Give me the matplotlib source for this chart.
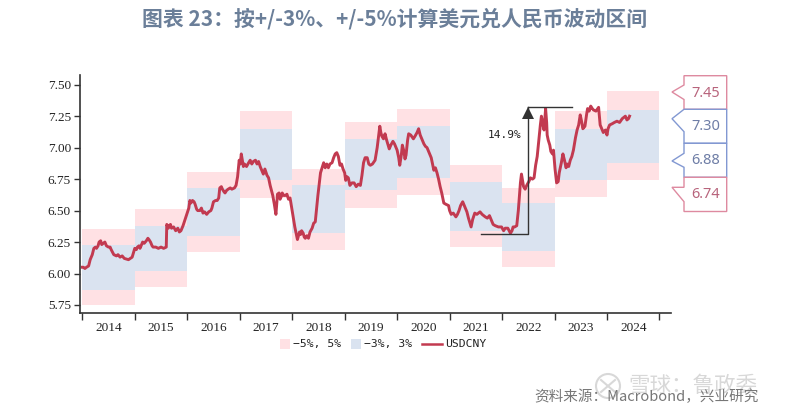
import matplotlib
matplotlib.use("Agg")
import matplotlib.pyplot as plt
from matplotlib.patches import Polygon, Rectangle, Circle
import numpy as np

plt.rcParams['font.family'] = ['Noto Sans CJK SC', 'DejaVu Sans']

# 数据
years = [2014, 2015, 2016, 2017, 2018, 2019, 2020, 2021, 2022, 2023, 2024]
low5 = [5.75, 5.89, 6.17, 6.60, 6.19, 6.52, 6.62, 6.21, 6.05, 6.61, 6.74]
low3 = [5.87, 6.02, 6.30, 6.74, 6.32, 6.66, 6.76, 6.34, 6.18, 6.74, 6.88]
high3 = [6.23, 6.38, 6.68, 7.15, 6.70, 7.07, 7.17, 6.73, 6.56, 7.15, 7.30]
high5 = [6.35, 6.51, 6.81, 7.29, 6.83, 7.20, 7.31, 6.86, 6.68, 7.29, 7.45]

usd_t = [2014.0, 2014.05, 2014.12, 2014.17, 2014.22, 2014.27, 2014.32, 2014.4, 2014.5, 2014.55,
         2014.65, 2014.72, 2014.8, 2014.88, 2014.95, 2015.0, 2015.05, 2015.1, 2015.15, 2015.22,
         2015.27, 2015.3, 2015.35, 2015.45, 2015.55, 2015.6, 2015.61, 2015.66, 2015.7, 2015.78,
         2015.85, 2015.92, 2016.0, 2016.05, 2016.1, 2016.15, 2016.2, 2016.27, 2016.3, 2016.37,
         2016.45, 2016.5, 2016.57, 2016.62, 2016.67, 2016.72, 2016.78, 2016.85, 2016.93, 2016.96,
         2016.99, 2017.03, 2017.07, 2017.17, 2017.26, 2017.36, 2017.42, 2017.52, 2017.58, 2017.63,
         2017.66, 2017.69, 2017.72, 2017.77, 2017.81, 2017.87, 2017.96, 2018.0, 2018.05, 2018.1,
         2018.14, 2018.21, 2018.25, 2018.31, 2018.38, 2018.44, 2018.49, 2018.54, 2018.6, 2018.63,
         2018.72, 2018.82, 2018.88, 2018.94, 2019.0, 2019.04, 2019.14, 2019.3, 2019.36, 2019.43,
         2019.49, 2019.58, 2019.67, 2019.71, 2019.77, 2019.85, 2019.92, 2020.0, 2020.05, 2020.1,
         2020.17, 2020.22, 2020.31, 2020.41, 2020.47, 2020.54, 2020.6, 2020.7, 2020.76, 2020.82,
         2020.89, 2020.98, 2021.03, 2021.12, 2021.18, 2021.25, 2021.33, 2021.41, 2021.48, 2021.58,
         2021.68, 2021.76, 2021.83, 2021.93, 2022.06, 2022.16, 2022.21, 2022.28, 2022.33, 2022.37,
         2022.41, 2022.47, 2022.54, 2022.61, 2022.67, 2022.75, 2022.8, 2022.83, 2022.88, 2022.93,
         2022.98, 2023.04, 2023.09, 2023.16, 2023.22, 2023.3, 2023.36, 2023.43, 2023.49, 2023.54,
         2023.63, 2023.69, 2023.74, 2023.84, 2023.9, 2024.0, 2024.05, 2024.19, 2024.29, 2024.35,
         2024.38, 2024.43]
usd_v = [6.05, 6.04, 6.06, 6.13, 6.20, 6.20, 6.25, 6.24, 6.21, 6.19,
         6.14, 6.13, 6.12, 6.11, 6.13, 6.20, 6.21, 6.20, 6.25, 6.26,
         6.27, 6.25, 6.21, 6.20, 6.20, 6.21, 6.39, 6.38, 6.36, 6.34,
         6.33, 6.38, 6.48, 6.58, 6.58, 6.55, 6.50, 6.52, 6.48, 6.47,
         6.50, 6.57, 6.58, 6.68, 6.67, 6.64, 6.67, 6.67, 6.70, 6.77,
         6.90, 6.95, 6.85, 6.88, 6.89, 6.89, 6.82, 6.78, 6.70, 6.62,
         6.55, 6.47, 6.63, 6.59, 6.64, 6.62, 6.60, 6.50, 6.37, 6.27,
         6.33, 6.32, 6.28, 6.28, 6.36, 6.41, 6.62, 6.80, 6.88, 6.84,
         6.87, 6.95, 6.93, 6.87, 6.80, 6.77, 6.72, 6.70, 6.88, 6.92,
         6.86, 6.90, 7.17, 7.09, 7.11, 6.99, 7.05, 6.98, 6.86, 7.02,
         6.94, 7.11, 7.07, 7.15, 7.07, 7.01, 6.97, 6.82, 6.80, 6.69,
         6.56, 6.54, 6.47, 6.45, 6.50, 6.57, 6.49, 6.37, 6.48, 6.49,
         6.45, 6.46, 6.39, 6.37, 6.36, 6.32, 6.37, 6.38, 6.61, 6.79,
         6.69, 6.70, 6.76, 6.76, 6.93, 7.25, 7.14, 7.31, 7.06, 6.97,
         6.98, 6.72, 6.80, 6.95, 6.84, 6.90, 6.98, 7.14, 7.26, 7.15,
         7.31, 7.33, 7.30, 7.32, 7.15, 7.10, 7.18, 7.21, 7.23, 7.25,
         7.22, 7.25]

# 细节点（折线上的小波动）
detail_t = [2014.02, 2014.08, 2014.15, 2014.19, 2014.25, 2014.30, 2014.35, 2014.37, 2014.43, 2014.46,
            2014.53, 2014.6, 2014.68, 2014.76, 2015.03, 2015.08, 2015.18, 2015.25, 2015.33, 2015.4,
            2015.5, 2015.64, 2015.68, 2015.74, 2015.82, 2015.88, 2015.96, 2016.03, 2016.07, 2016.13,
            2016.18, 2016.24, 2016.33, 2016.41, 2016.47, 2016.54, 2016.6, 2016.65, 2016.7, 2016.75,
            2016.82, 2016.9, 2017.01, 2017.09, 2017.13, 2017.2, 2017.23, 2017.3, 2017.33, 2017.39,
            2017.45, 2017.48, 2017.55, 2017.75, 2017.79, 2017.84, 2017.9, 2017.93, 2018.12, 2018.16,
            2018.18, 2018.23, 2018.28, 2018.34, 2018.41, 2018.57, 2018.66, 2018.69, 2018.76, 2018.79,
            2018.85, 2018.91, 2018.97, 2019.02, 2019.07, 2019.1, 2019.18, 2019.22, 2019.26, 2019.33,
            2019.39, 2019.46, 2019.53, 2019.62, 2019.69, 2019.74, 2019.8, 2019.88, 2019.95, 2020.03,
            2020.08, 2020.13, 2020.15, 2020.2, 2020.26, 2020.34, 2020.38, 2020.44, 2020.51, 2020.57,
            2020.65, 2020.73, 2020.79, 2020.85, 2020.93, 2021.0, 2021.07, 2021.15, 2021.21, 2021.29,
            2021.36, 2021.44, 2021.52, 2021.62, 2021.72, 2021.79, 2021.87, 2021.99, 2022.03, 2022.11,
            2022.19, 2022.24, 2022.31, 2022.35, 2022.39, 2022.44, 2022.51, 2022.58, 2022.64, 2022.71,
            2022.73, 2022.78, 2022.85, 2022.86, 2022.91, 2022.96, 2023.01, 2023.07, 2023.13, 2023.19,
            2023.24, 2023.27, 2023.33, 2023.4, 2023.46, 2023.52, 2023.58, 2023.61, 2023.66, 2023.72,
            2023.79, 2023.87, 2023.93, 2023.97, 2024.02, 2024.1, 2024.14, 2024.24, 2024.32, 2024.41]
detail_v = [6.05, 6.05, 6.11, 6.15, 6.21, 6.22, 6.26, 6.23, 6.25, 6.22,
            6.21, 6.15, 6.15, 6.14, 6.19, 6.22, 6.24, 6.28, 6.22, 6.21,
            6.21, 6.36, 6.39, 6.37, 6.36, 6.34, 6.43, 6.52, 6.56, 6.57,
            6.51, 6.50, 6.49, 6.49, 6.52, 6.58, 6.60, 6.69, 6.65, 6.66,
            6.68, 6.68, 6.87, 6.87, 6.85, 6.90, 6.87, 6.90, 6.87, 6.85,
            6.79, 6.83, 6.76, 6.64, 6.61, 6.62, 6.63, 6.59, 6.30, 6.31,
            6.34, 6.29, 6.30, 6.33, 6.40, 6.84, 6.87, 6.84, 6.88, 6.92,
            6.96, 6.86, 6.83, 6.74, 6.76, 6.70, 6.72, 6.69, 6.71, 6.78,
            6.92, 6.87, 6.87, 7.00, 7.12, 7.07, 7.06, 7.02, 7.03, 6.92,
            6.94, 6.97, 6.91, 7.06, 7.10, 7.09, 7.12, 7.10, 7.03, 7.00,
            6.92, 6.84, 6.75, 6.64, 6.55, 6.50, 6.48, 6.47, 6.54, 6.53,
            6.44, 6.43, 6.47, 6.47, 6.44, 6.43, 6.38, 6.37, 6.34, 6.36,
            6.34, 6.37, 6.50, 6.72, 6.74, 6.67, 6.73, 6.75, 6.86, 7.10,
            7.18, 7.18, 7.20, 7.10, 7.02, 6.95, 6.83, 6.73, 6.88, 6.90,
            6.87, 6.85, 6.93, 7.08, 7.18, 7.20, 7.17, 7.26, 7.29, 7.31,
            7.29, 7.18, 7.12, 7.14, 7.15, 7.19, 7.20, 7.20, 7.24, 7.23]

ytick_vals = [5.75, 6.00, 6.25, 6.50, 6.75, 7.00, 7.25, 7.50]
callouts = ["7.45", "7.30", "6.88", "6.74"]

pink = '#FFE1E4'
blue = '#DAE3F0'
red = '#C23A50'
W, H = 790, 412

fig = plt.figure(figsize=(W / 100, H / 100), dpi=100)
# 主图
left, right, top, bottom = 80, 671, 75, 313.3
ax = fig.add_axes([left / W, 1 - bottom / H, (right - left) / W, (bottom - top) / H])
ax.set_xlim(2013.956, 2025.22)
ax.set_ylim(5.684, 7.577)

ax.bar(years, np.array(high5) - np.array(low5), bottom=low5, width=1, align='edge', color=pink, linewidth=0)
ax.bar(years, np.array(high3) - np.array(low3), bottom=low3, width=1, align='edge', color=blue, linewidth=0)

all_t = np.array(usd_t + detail_t)
all_v = np.array(usd_v + detail_v)
order = np.argsort(all_t)
ax.plot(all_t[order], all_v[order], color=red, lw=2.1, solid_joinstyle='round')

# 14.9% 标注
ax.plot([2021.59, 2022.5, 2022.5], [6.31, 6.31, 7.32], color='#333333', lw=1.0)
ax.plot([2022.5, 2023.34], [7.32, 7.32], color='#333333', lw=1.0)
ax.plot([2022.5], [7.275], marker='^', ms=8.5, color='#333333', mew=0)
ax.text(2022.37, 7.10, "14.9%", family='DejaVu Sans Mono', fontsize=8, color='#222222', ha='right', va='center')

for s in ['top', 'right']:
    ax.spines[s].set_visible(False)
for s in ['left', 'bottom']:
    ax.spines[s].set_color('#333333')
    ax.spines[s].set_linewidth(1.2)

ax.set_yticks(ytick_vals)
ax.set_yticklabels(["%.2f" % v for v in ytick_vals], family='Liberation Serif', fontsize=9.5, color='#222222')
ax.tick_params(axis='y', length=4.5, width=1, color='#333333', pad=2)
ax.set_xticks(years + [2025])
ax.set_xticklabels([])
ax.tick_params(axis='x', length=5, width=1, color='#333333')
ax.set_xticks(np.array(years) + 0.5, minor=True)
ax.set_xticklabels([str(y) for y in years], minor=True, family='Liberation Serif', fontsize=9.5, color='#222222')
ax.tick_params(axis='x', which='minor', length=0, pad=6)

# 像素坐标的覆盖层：右侧标签、图例、标题
ov = fig.add_axes([0, 0, 1, 1], facecolor='none')
ov.set_xlim(0, W)
ov.set_ylim(H, 0)
ov.axis('off')

c_pink = '#DE8AA0'
c_blue = '#8298D2'
boxes = [
    (75.7, 109.3, 85, 92, 99.5, c_pink, '#B8647C'),
    (109.3, 143.3, 109.3, 118.7, 131.7, c_blue, '#6E7DA6'),
    (143.3, 177.3, 153.3, 161, 167.3, c_blue, '#6E7DA6'),
    (177.3, 211.5, 187.3, 187.3, 201.7, c_pink, '#B8647C'),
]
for (y0, y1, b0, tip, b1, ec, tc), label in zip(boxes, callouts):
    pts = [(684, y0), (726.7, y0), (726.7, y1), (684, y1), (684, b1), (672, tip), (684, b0)]
    ov.add_patch(Polygon(pts, closed=True, fc='white', ec=ec, lw=1.0))
    ov.text(705.5, (y0 + y1) / 2 + 0.5, label, family='Noto Sans', fontsize=10.5, color=tc, ha='center', va='center')

# 图例
ov.add_patch(Rectangle((280, 338.5), 10, 10.5, fc=pink, ec='none'))
ov.text(293, 344, "−5%, 5%", family='DejaVu Sans Mono', fontsize=8.2, color='#222222', va='center')
ov.add_patch(Rectangle((351, 338.5), 10, 10.5, fc=blue, ec='none'))
ov.text(364, 344, "−3%, 3%", family='DejaVu Sans Mono', fontsize=8.2, color='#222222', va='center')
ov.plot([422, 442], [344, 344], color=red, lw=1.8)
ov.text(445, 344, "USDCNY", family='DejaVu Sans Mono', fontsize=8.2, color='#222222', va='center')

# 标题
ov.text(395, 19, "图表 23：按+/-3%、+/-5%计算美元兑人民币波动区间", fontsize=15, fontweight='bold',
        color='#6B7F99', ha='center', va='center')

# 水印和来源
ov.add_patch(Circle((608, 386), 12, fc='none', ec='#D8D8D8', lw=1.5))
ov.plot([601, 615], [380, 392], color='#D8D8D8', lw=1.5)
ov.plot([601, 615], [392, 380], color='#D8D8D8', lw=1.5)
ov.text(628, 386, "雪球：鲁政委", fontsize=15.5, color='#D8D8D8', va='center')
ov.text(759, 397, "资料来源：Macrobond，兴业研究", fontsize=10.5, color='#777777', ha='right', va='center')

fig.savefig('out.png', dpi=100)
